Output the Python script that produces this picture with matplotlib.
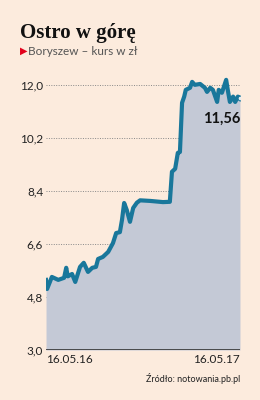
import matplotlib.pyplot as plt
import matplotlib.dates as mdates
import pandas as pd

dates = ['2016-05-16', '2016-05-18', '2016-05-27', '2016-06-08', '2016-06-19', '2016-06-23',
         '2016-06-26', '2016-07-04', '2016-07-10', '2016-07-19', '2016-07-26', '2016-08-03',
         '2016-08-11', '2016-08-18', '2016-08-22', '2016-08-31', '2016-09-10', '2016-09-19',
         '2016-09-25', '2016-10-02', '2016-10-06', '2016-10-10', '2016-10-15', '2016-10-21',
         '2016-10-27', '2016-11-03', '2016-11-09', '2016-11-28', '2016-12-22', '2017-01-04',
         '2017-01-08', '2017-01-14', '2017-01-19', '2017-01-23', '2017-01-27', '2017-01-31',
         '2017-02-03', '2017-02-11', '2017-02-15', '2017-02-20', '2017-03-02', '2017-03-11',
         '2017-03-15', '2017-03-21', '2017-03-26', '2017-04-03', '2017-04-06', '2017-04-12',
         '2017-04-20', '2017-04-23', '2017-04-27', '2017-05-03', '2017-05-07', '2017-05-12',
         '2017-05-16']
prices = [5.38, 5.07, 5.48, 5.38, 5.45, 5.79, 5.50, 5.58, 5.31, 5.82, 5.96, 5.65,
          5.79, 5.82, 6.09, 6.16, 6.33, 6.63, 6.97, 7.00, 7.42, 7.99, 7.75, 7.35,
          7.82, 8.00, 8.08, 8.06, 8.02, 8.03, 9.05, 9.15, 9.69, 9.72, 11.39, 11.60,
          11.83, 11.90, 12.10, 12.00, 12.03, 11.90, 11.76, 11.90, 11.83, 11.42, 11.83, 11.73,
          12.17, 11.83, 11.42, 11.60, 11.42, 11.60, 11.56]
y_ticks = [3.0, 4.8, 6.6, 8.4, 10.2, 12.0]
x_ticks = ['2016-05-16', '2017-05-16']
x_labels = ['16.05.16', '16.05.17']

bg = '#fcebdd'
x = pd.to_datetime(dates)

fig = plt.figure(figsize=(2.6, 4.0), dpi=100, facecolor=bg)
ax = fig.add_axes([0.177, 0.125, 0.746, 0.685])
ax.set_facecolor(bg)

ax.fill_between(x, 3.0, prices, color='#c4c9d6', lw=0)
ax.plot(x, prices, color='#19779b', lw=3, solid_joinstyle='round')
ax.plot(x[-1:], prices[-1:], 'o', ms=3.5, mfc='#e8ecf0', mec='#19779b', mew=0.8)

ax.set_xlim(x[0], x[-1])
ax.set_ylim(3.0, 12.3)
for v in y_ticks[1:]:
    ax.axhline(v, color='#888888', lw=0.7, ls=(0, (1, 1.5)), zorder=0)
ax.axhline(3.0, color='#333333', lw=1.2)

ax.set_yticks(y_ticks)
ax.set_yticklabels([f'{v:.1f}'.replace('.', ',') for v in y_ticks],
                   fontsize=8.5, family='Lato', color='#222222')
ax.tick_params(axis='y', length=0, pad=2)
ax.set_xticks(pd.to_datetime(x_ticks))
ax.set_xticklabels(x_labels, fontsize=8.5, family='Lato', color='#222222')
ax.get_xticklabels()[0].set_ha('left')
ax.get_xticklabels()[1].set_ha('right')
ax.tick_params(axis='x', length=0, pad=3)
for s in ax.spines.values():
    s.set_visible(False)

ax.text(x[-1], 11.1, f'{prices[-1]:.2f}'.replace('.', ','), ha='right', va='top',
        fontsize=10.5, fontweight='bold', family='Lato', color='#111111')

fig.text(0.077, 0.905, 'Ostro w górę', fontsize=15, fontweight='bold',
         family='Liberation Serif', color='#111111', va='baseline')
fig.text(0.077, 0.872, '\u25B6', fontsize=7, color='#e3001b', va='center', family='DejaVu Sans')
fig.text(0.108, 0.872, 'Boryszew \u2013 kurs w zł', fontsize=8.5, family='Lato',
         color='#555555', va='center')
fig.text(0.923, 0.055, 'Źródło: notowania.pb.pl', fontsize=6.5, family='Lato',
         color='#222222', ha='right', va='center')

fig.savefig('out.png', dpi=100, facecolor=bg)
